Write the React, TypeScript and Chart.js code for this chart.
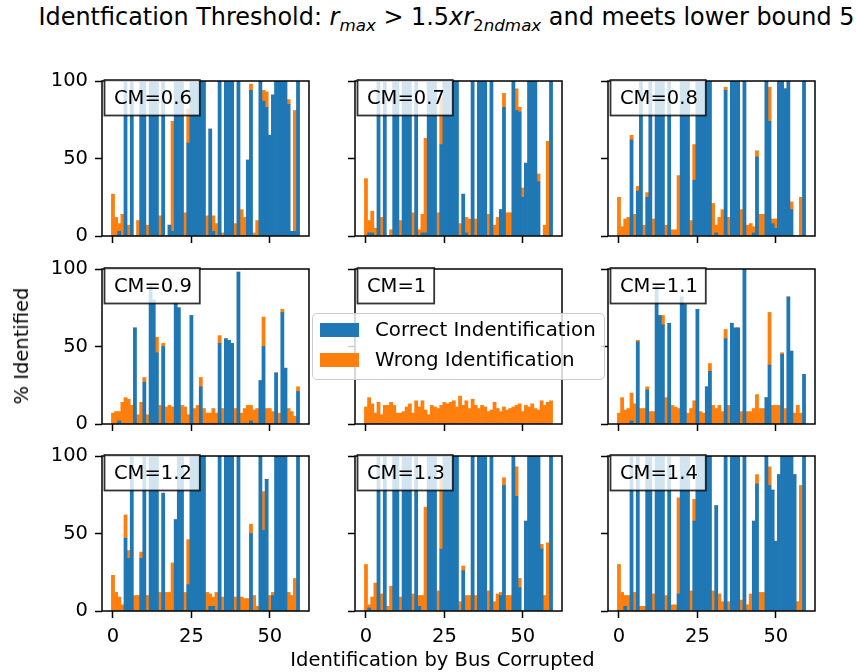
import React, { useEffect, useRef } from 'react';
import { Chart, registerables } from 'chart.js';

Chart.register(...registerables);

// ---------------- data ----------------
const BUSES = [
  0, 1, 2, 3, 4, 5, 6, 7, 8, 9, 10, 11, 12, 13, 14, 15, 16, 17, 18, 19,
  20, 21, 22, 23, 24, 25, 26, 27, 28, 29, 30, 31, 32, 33, 34, 35, 36, 37, 38, 39,
  40, 41, 42, 43, 44, 45, 46, 47, 48, 49, 50, 51, 52, 53, 54, 55, 56, 57, 58, 59,
];
const X_TICKS = [0, 25, 50];
const Y_TICKS = [0, 50, 100];
const SERIES_NAMES = ['Correct Indentification', 'Wrong Identification'];
const CM_LABELS = ['CM=0.6', 'CM=0.7', 'CM=0.8', 'CM=0.9', 'CM=1', 'CM=1.1', 'CM=1.2', 'CM=1.3', 'CM=1.4'];

const CORRECT_06 = [0,0,3,0,100,0,100,0,0,100, 100,0,100,100,100,0,100,0,7,3, 100,100,100,0,60,100,100,100,100,100, 0,69,3,0,100,0,100,100,100,0, 100,0,0,49,94,0,0,100,87,83, 65,91,100,100,100,100,85,3,3,100];
const WRONG_06 = [27,12,5,14,0,7,0,0,10,0, 0,7,0,0,0,13,0,0,0,71, 0,0,0,15,22,0,0,0,0,0, 13,0,10,8,0,2,0,0,0,8, 0,17,12,0,4,2,10,0,7,10, 0,0,0,0,0,0,3,0,78,0];

const CORRECT_07 = [0,2,2,0,100,0,100,0,0,100, 100,0,100,100,100,0,100,0,2,2, 100,100,100,0,59,100,100,100,100,100, 0,27,2,0,100,0,100,100,100,0, 100,0,0,17,83,0,0,100,81,80, 25,47,100,100,100,35,0,0,0,100];
const WRONG_07 = [37,8,14,5,0,12,0,0,4,0, 0,10,0,0,0,15,0,4,12,61, 0,0,0,15,30,0,0,0,0,0, 8,0,10,11,0,11,0,0,0,14, 0,7,12,0,9,15,15,0,14,3, 6,0,0,0,0,5,0,7,61,0];

const CORRECT_08 = [0,0,0,0,62,0,29,100,0,25, 100,0,100,100,100,0,100,0,0,0, 100,100,100,0,36,100,100,100,100,100, 0,2,0,0,94,0,100,100,100,0, 100,0,0,2,51,0,0,100,74,8, 5,100,100,95,100,17,0,0,0,100];
const WRONG_08 = [25,6,11,12,3,14,3,0,7,3, 0,11,0,0,0,7,0,4,4,39, 0,0,0,10,23,0,0,0,0,0, 21,5,12,17,2,12,0,0,0,17, 0,7,8,4,4,14,14,0,22,3, 6,0,0,0,0,5,0,0,25,0];

const CORRECT_09 = [0,0,2,0,0,0,0,62,0,0, 27,0,89,80,46,0,50,0,0,0, 78,75,0,0,0,70,0,0,24,0, 0,0,0,0,52,0,55,54,52,0, 98,0,0,0,2,0,0,28,50,0, 0,0,33,0,72,36,0,0,0,21];
const WRONG_09 = [7,8,6,14,17,16,12,0,6,14, 3,6,0,0,10,12,2,11,12,11, 0,0,12,11,6,0,10,12,6,10, 7,7,10,7,5,10,0,0,0,10, 0,7,10,12,10,9,10,0,19,10, 10,8,0,7,2,0,10,8,5,3];

const CORRECT_10 = [0,0,0,0,0,0,0,0,0,0, 0,0,0,0,0,0,0,0,0,0, 0,0,0,0,0,0,0,0,0,0, 0,0,0,0,0,0,0,0,0,0, 0,0,0,0,0,0,0,0,0,0, 0,0,0,0,0,0,0,0,0,0];
const WRONG_10 = [11,17,13,7,14,6,12,12,14,12, 7,7,8,11,13,7,15,11,15,9, 6,12,11,10,12,14,13,14,15,11, 18,12,15,10,16,12,10,12,11,8, 9,14,10,8,11,9,10,11,12,13, 8,12,11,13,10,9,15,12,14,15];

const CORRECT_11 = [0,0,0,0,2,0,53,0,0,22, 0,0,89,70,64,0,65,0,0,0, 82,77,0,0,0,74,0,0,24,34, 0,0,0,0,55,0,65,62,62,0, 100,0,0,0,0,0,0,17,38,0, 0,0,45,0,82,47,0,0,0,32];
const WRONG_11 = [7,17,9,10,18,13,1,10,10,2, 8,8,0,0,6,17,0,12,11,10, 0,0,7,10,15,0,8,7,0,5, 12,10,12,8,6,12,0,0,0,8, 0,8,8,10,19,10,10,0,34,12, 12,12,1,10,0,0,7,12,7,0];

const CORRECT_12 = [0,0,0,0,47,34,100,0,0,34, 100,0,100,100,100,0,76,0,0,0, 59,100,100,0,17,100,100,100,100,100, 0,3,3,0,100,0,100,100,100,0, 100,0,0,0,50,0,0,100,52,85, 0,10,100,100,100,100,0,0,0,100];
const WRONG_12 = [23,12,9,4,15,5,0,10,10,4, 0,10,0,0,0,12,0,12,12,31, 0,0,0,12,29,0,0,0,0,0, 12,8,6,12,0,9,0,0,0,9, 0,9,8,8,6,10,3,0,25,0, 10,2,0,0,0,0,12,10,21,0];

const CORRECT_13 = [0,2,0,0,100,0,100,0,0,100, 100,0,100,100,100,0,100,3,0,0, 100,100,100,0,40,100,100,100,100,100, 0,26,0,0,100,0,100,100,100,0, 100,0,0,10,81,0,0,100,74,15, 0,58,100,100,100,100,40,0,0,100];
const WRONG_13 = [30,2,9,18,0,11,0,3,16,0, 0,9,0,0,0,11,0,7,10,67, 0,0,0,13,45,0,0,0,0,0, 6,3,10,10,0,10,0,0,0,13, 0,6,11,2,5,10,10,0,19,6, 0,0,0,0,0,0,3,10,44,0];

const CORRECT_14 = [0,0,3,0,100,0,100,0,0,100, 100,0,100,100,100,0,100,0,0,11, 100,100,100,0,58,100,100,100,100,100, 0,68,0,0,100,0,100,100,100,0, 100,0,0,58,82,0,0,100,81,78, 45,88,100,100,100,100,88,0,0,100];
const WRONG_14 = [30,12,7,10,0,12,0,3,3,0, 0,11,0,0,0,10,0,4,4,62, 0,0,0,13,14,0,0,0,0,0, 13,0,11,6,0,6,0,0,0,7, 0,4,11,0,6,12,12,0,12,0, 0,0,0,0,0,0,0,6,81,0];

const CORRECT_SETS = [CORRECT_06, CORRECT_07, CORRECT_08, CORRECT_09, CORRECT_10, CORRECT_11, CORRECT_12, CORRECT_13, CORRECT_14];
const WRONG_SETS = [WRONG_06, WRONG_07, WRONG_08, WRONG_09, WRONG_10, WRONG_11, WRONG_12, WRONG_13, WRONG_14];

// ---------------- styling / layout ----------------
const FONT = "'DejaVu Sans', sans-serif";
const FS = 19.5;
const BLUE = '#1f77b4';
const ORANGE = '#ff7f0e';

const COL_LEFT = [102, 355, 608];
const ROW_TOP = [81, 269, 456];
const AX_W = 207;
const AX_H = 155;
const PAD_L = 100;
const PAD_T = 20;
const PAD_R = 20;
const PAD_B = 60;
const CW = AX_W + PAD_L + PAD_R;
const CH = AX_H + PAD_T + PAD_B;

type PanelProps = {
  label: string;
  correct: number[];
  wrong: number[];
  left: number;
  top: number;
  showX: boolean;
  showY: boolean;
};

function Panel({ label, correct, wrong, left, top, showX, showY }: PanelProps) {
  const ref = useRef<HTMLCanvasElement | null>(null);

  useEffect(() => {
    if (!ref.current) return;
    const framePlugin = {
      id: 'frameAndLabel',
      afterDatasetsDraw(chart: any) {
        const { ctx, chartArea: a } = chart;
        ctx.save();
        ctx.strokeStyle = '#000';
        ctx.lineWidth = 1.5;
        ctx.strokeRect(a.left, a.top, a.right - a.left, a.bottom - a.top);
        ctx.font = `${FS}px ${FONT}`;
        const tw = ctx.measureText(label).width;
        const bx = a.left + 2.5;
        const by = a.top - 1;
        const bw = tw + 17.5;
        const bh = 35.5;
        ctx.fillStyle = 'rgba(255,255,255,0.8)';
        ctx.fillRect(bx, by, bw, bh);
        ctx.strokeStyle = 'rgba(0,0,0,0.8)';
        ctx.lineWidth = 1.8;
        ctx.strokeRect(bx, by, bw, bh);
        ctx.fillStyle = '#000';
        ctx.textBaseline = 'middle';
        ctx.textAlign = 'left';
        ctx.fillText(label, bx + 9.5, by + bh / 2 + 1);
        ctx.restore();
      },
    };

    const tickFont = { family: FONT, size: FS };
    const grid = {
      display: true,
      drawOnChartArea: false,
      drawTicks: true,
      tickLength: 7,
      tickWidth: 1.5,
      tickColor: '#000',
      offset: false,
    };

    const chart = new Chart(ref.current, {
      type: 'bar',
      data: {
        datasets: [
          {
            label: SERIES_NAMES[0],
            data: BUSES.map((b, i) => ({ x: b, y: correct[i] })),
            backgroundColor: BLUE,
            borderWidth: 0,
            barPercentage: 1,
            categoryPercentage: 1,
          },
          {
            label: SERIES_NAMES[1],
            data: BUSES.map((b, i) => ({ x: b, y: wrong[i] })),
            backgroundColor: ORANGE,
            borderWidth: 0,
            barPercentage: 1,
            categoryPercentage: 1,
          },
        ],
      },
      options: {
        responsive: false,
        animation: false,
        events: [],
        layout: { padding: { top: PAD_T, right: PAD_R, left: 0, bottom: 0 } },
        plugins: {
          legend: { display: false },
          tooltip: { enabled: false },
          title: { display: false },
        },
        scales: {
          x: {
            type: 'linear',
            min: -3.5,
            max: 62.5,
            stacked: true,
            offset: false,
            afterBuildTicks: (s: any) => {
              s.ticks = X_TICKS.map((v) => ({ value: v }));
            },
            afterFit: (s: any) => {
              s.height = PAD_B;
            },
            ticks: { display: showX, color: '#000', font: tickFont, padding: 7, maxRotation: 0, autoSkip: false },
            grid,
            border: { display: false },
          },
          y: {
            type: 'linear',
            min: 0,
            max: 100,
            stacked: true,
            afterBuildTicks: (s: any) => {
              s.ticks = Y_TICKS.map((v) => ({ value: v }));
            },
            afterFit: (s: any) => {
              s.width = PAD_L;
            },
            ticks: { display: showY, color: '#000', font: tickFont, padding: 7, autoSkip: false },
            grid,
            border: { display: false },
          },
        },
      } as any,
      plugins: [framePlugin],
    });
    return () => chart.destroy();
  }, [label, correct, wrong, showX, showY]);

  return (
    <canvas
      ref={ref}
      width={CW}
      height={CH}
      style={{ position: 'absolute', left: left - PAD_L, top: top - PAD_T, width: CW, height: CH }}
    />
  );
}

export default function App() {
  const subStyle: React.CSSProperties = { fontSize: '0.7em', verticalAlign: '-0.3em' };
  return (
    <div
      style={{
        position: 'absolute',
        left: 0,
        top: 0,
        width: 857,
        height: 672,
        background: '#fff',
        fontFamily: FONT,
        color: '#000',
        overflow: 'hidden',
      }}
    >
      {CM_LABELS.map((lab, k) => {
        const r = Math.floor(k / 3);
        const c = k % 3;
        return (
          <Panel
            key={lab}
            label={lab}
            correct={CORRECT_SETS[k]}
            wrong={WRONG_SETS[k]}
            left={COL_LEFT[c]}
            top={ROW_TOP[r]}
            showX={r === 2}
            showY={c === 0}
          />
        );
      })}

      {/* title */}
      <div
        style={{
          position: 'absolute',
          left: 446.5,
          top: 21,
          transform: 'translate(-50%, -50%)',
          fontSize: 23.9,
          whiteSpace: 'nowrap',
          lineHeight: '28px',
        }}
      >
        Identfication Threshold: <i>r</i>
        <span style={subStyle}>
          <i>max</i>
        </span>
        {' > 1.5'}
        <i>xr</i>
        <span style={subStyle}>
          2<i>ndmax</i>
        </span>
        {' and meets lower bound 5'}
      </div>

      {/* y label */}
      <div
        style={{
          position: 'absolute',
          left: 22,
          top: 346,
          transform: 'translate(-50%, -50%) rotate(-90deg)',
          fontSize: FS,
          whiteSpace: 'nowrap',
          lineHeight: '22px',
        }}
      >
        % Identified
      </div>

      {/* x label */}
      <div
        style={{
          position: 'absolute',
          left: 442.5,
          top: 660,
          transform: 'translate(-50%, -50%)',
          fontSize: FS,
          whiteSpace: 'nowrap',
          lineHeight: '22px',
        }}
      >
        Identification by Bus Corrupted
      </div>

      {/* legend */}
      <div
        style={{
          position: 'absolute',
          left: 312,
          top: 313,
          width: 293,
          height: 67,
          boxSizing: 'border-box',
          border: '1.5px solid #cccccc',
          borderRadius: 5,
          background: 'rgba(255,255,255,0.8)',
          zIndex: 5,
        }}
      />
      {[BLUE, ORANGE].map((col, k) => (
        <React.Fragment key={col}>
          <div
            style={{
              position: 'absolute',
              left: 320,
              top: 323 + k * 30,
              width: 39,
              height: 14,
              background: col,
              zIndex: 6,
            }}
          />
          <div
            style={{
              position: 'absolute',
              left: 375,
              top: 330 + k * 30,
              transform: 'translateY(-50%)',
              fontSize: 19.8,
              whiteSpace: 'nowrap',
              lineHeight: '22px',
              zIndex: 6,
            }}
          >
            {SERIES_NAMES[k]}
          </div>
        </React.Fragment>
      ))}
    </div>
  );
}
